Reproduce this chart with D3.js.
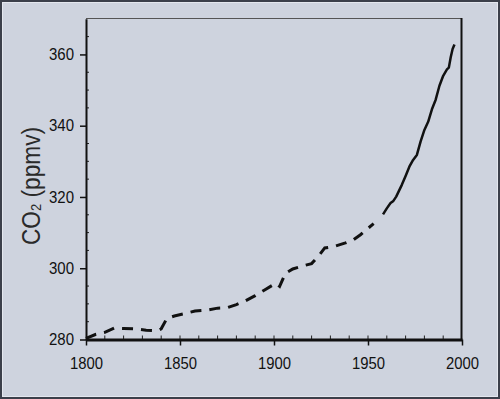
<!DOCTYPE html>
<html>
<head>
<meta charset="utf-8">
<script src="https://cdn.jsdelivr.net/npm/d3@7"></script>
<style>
  html, body { margin: 0; padding: 0; background: #ced3de; }
  svg { display: block; }
  text { font-family: "Liberation Sans", Arial, sans-serif; fill: #111; }
</style>
</head>
<body>
<svg id="chart"></svg>
<script>
const width = 500;
const height = 399;

// ice core record (dashed)
const iceYears = [1800, 1805, 1810, 1815, 1820, 1826, 1832, 1838, 1840, 1843, 1847, 1852, 1858, 1864,
  1870, 1875, 1880, 1885, 1890, 1895, 1901, 1903, 1906, 1910, 1915, 1920, 1924, 1927, 1932, 1938,
  1942, 1946, 1950, 1953];
const icePpm = [280.3, 281.4, 282.0, 283.2, 283.1, 283.0, 282.6, 282.5, 283.0, 285.9, 286.6, 287.2, 288.0, 288.2,
  288.8, 288.9, 289.8, 290.9, 292.3, 293.9, 295.8, 294.9, 298.5, 299.8, 300.6, 301.3, 303.6, 305.7, 306.1, 307.1,
  307.9, 309.4, 311.2, 312.5];

// Mauna Loa record (solid)
const mloYears = [1958, 1960, 1962, 1963.5, 1965, 1968, 1970, 1972, 1974, 1976, 1978, 1980, 1982, 1984,
  1986, 1988, 1990, 1992, 1993, 1994, 1995, 1996];
const mloPpm = [315.1, 316.8, 318.3, 318.9, 320.1, 323.4, 325.9, 328.5, 330.4, 331.8, 335.6, 338.8, 341.1, 344.6,
  347.3, 351.2, 354.0, 355.8, 356.3, 359.2, 361.5, 362.8];

const xTicks = [1800, 1850, 1900, 1950, 2000];
const yTicks = [280, 300, 320, 340, 360];

const svg = d3.select('#chart').attr('width', width).attr('height', height);

// outer frame
svg.append('rect').attr('x', 1).attr('y', 1).attr('width', width - 2).attr('height', height - 2)
    .style('fill', '#ced3de').style('stroke', '#3b3f4a').style('stroke-width', 2);
svg.append('rect').attr('x', 2.5).attr('y', 2.5).attr('width', width - 5).attr('height', height - 5)
    .style('fill', 'none').style('stroke', '#e4e7ee').style('stroke-width', 1);

const x = d3.scaleLinear().domain([1800, 2000]).range([86, 462]);
const y = d3.scaleLinear().domain([280, 370]).range([339.5, 18.8]);

// top and right frame lines
svg.append('line').attr('x1', x(1800)).attr('x2', x(2000)).attr('y1', 18.5).attr('y2', 18.5)
    .style('stroke', '#555').style('stroke-width', 1);
svg.append('line').attr('x1', x(2000) - 0.5).attr('x2', x(2000) - 0.5).attr('y1', 18).attr('y2', y(280))
    .style('stroke', '#111').style('stroke-width', 2);

// minor ticks (inward)
const minorX = d3.range(1810, 2000, 10);
svg.append('g').selectAll('line').data(minorX).enter().append('line')
    .attr('x1', d => x(d)).attr('x2', d => x(d))
    .attr('y1', y(280)).attr('y2', y(280) - 4)
    .style('stroke', '#222').style('stroke-width', 1);
const minorY = d3.range(285, 370, 5).filter(v => v % 20 !== 0);
svg.append('g').selectAll('line').data(minorY).enter().append('line')
    .attr('x1', x(1800)).attr('x2', x(1800) + 3)
    .attr('y1', d => y(d)).attr('y2', d => y(d))
    .style('stroke', '#222').style('stroke-width', 1);

// axes
const xAxis = svg.append('g')
    .attr('transform', `translate(0,${y(280)})`)
    .call(d3.axisBottom(x).tickValues(xTicks).tickFormat(d3.format('d')).tickSize(6).tickPadding(12).tickSizeOuter(0));
xAxis.select('.domain').style('stroke', '#111').style('stroke-width', 3);
xAxis.selectAll('.tick line').style('stroke', '#111').style('stroke-width', 1.5);
xAxis.selectAll('.tick text')
    .style('font-size', '16px').style('fill', '#111')
    .attr('textLength', 33).attr('lengthAdjust', 'spacingAndGlyphs');

const yAxis = svg.append('g')
    .attr('transform', `translate(${x(1800)},0)`)
    .call(d3.axisLeft(y).tickValues(yTicks).tickSize(6).tickPadding(6).tickSizeOuter(0));
yAxis.select('.domain').style('stroke', '#111').style('stroke-width', 2);
yAxis.selectAll('.tick line').style('stroke', '#111').style('stroke-width', 1.5);
yAxis.selectAll('.tick text')
    .style('font-size', '16px').style('fill', '#111')
    .attr('textLength', 25).attr('lengthAdjust', 'spacingAndGlyphs');

// y label
const yLabel = svg.append('text')
    .attr('transform', 'translate(40,186) rotate(-90)')
    .attr('text-anchor', 'middle')
    .attr('textLength', 118).attr('lengthAdjust', 'spacingAndGlyphs')
    .style('font-size', '26px').style('fill', '#2a2a2a');
yLabel.append('tspan').text('CO');
yLabel.append('tspan').attr('dy', 1).style('font-size', '15px').text('2');
yLabel.append('tspan').attr('dy', -1).text(' (ppmv)');

// curves
const line = d3.line().x(d => x(d[0])).y(d => y(d[1]));
const iceData = iceYears.map((yr, i) => [yr, icePpm[i]]);
const mloData = mloYears.map((yr, i) => [yr, mloPpm[i]]);

svg.append('path').datum(iceData)
    .attr('d', line)
    .style('fill', 'none').style('stroke', '#111').style('stroke-width', 3)
    .style('stroke-dasharray', '11,8');

svg.append('path').datum(mloData)
    .attr('d', line)
    .style('fill', 'none').style('stroke', '#111').style('stroke-width', 2.5)
    .style('stroke-linejoin', 'round');
</script>
</body>
</html>
